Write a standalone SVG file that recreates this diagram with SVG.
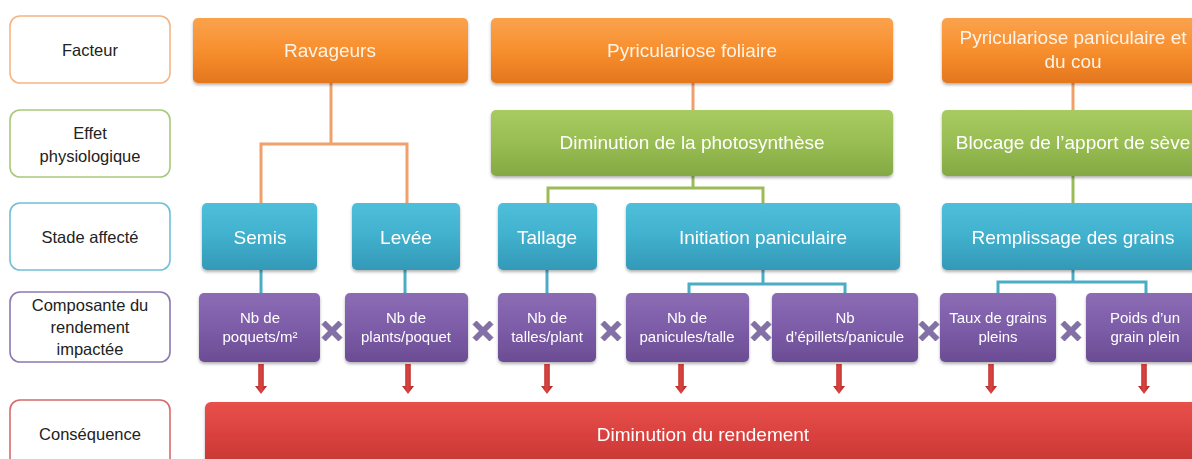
<svg xmlns="http://www.w3.org/2000/svg" width="1192" height="459" viewBox="0 0 1192 459">
<defs>
<linearGradient id="gOr" x1="0" y1="0" x2="0" y2="1"><stop offset="0" stop-color="#fba24e"/><stop offset="0.5" stop-color="#f78f2e"/><stop offset="1" stop-color="#e4761d"/></linearGradient>
<linearGradient id="gGr" x1="0" y1="0" x2="0" y2="1"><stop offset="0" stop-color="#a8cb62"/><stop offset="0.5" stop-color="#98bd52"/><stop offset="1" stop-color="#84a944"/></linearGradient>
<linearGradient id="gBl" x1="0" y1="0" x2="0" y2="1"><stop offset="0" stop-color="#4fbfdb"/><stop offset="0.5" stop-color="#40b0cd"/><stop offset="1" stop-color="#3399b7"/></linearGradient>
<linearGradient id="gPu" x1="0" y1="0" x2="0" y2="1"><stop offset="0" stop-color="#8c6cb5"/><stop offset="0.5" stop-color="#7d5ca8"/><stop offset="1" stop-color="#6b4d94"/></linearGradient>
<linearGradient id="gRd" x1="0" y1="0" x2="0" y2="1"><stop offset="0" stop-color="#e8504c"/><stop offset="0.5" stop-color="#d8403d"/><stop offset="1" stop-color="#c23532"/></linearGradient>
<linearGradient id="gAr" x1="0" y1="0" x2="1" y2="0"><stop offset="0" stop-color="#b52a28"/><stop offset="0.5" stop-color="#d94441"/><stop offset="1" stop-color="#a82422"/></linearGradient>
<filter id="sh" x="-10%" y="-10%" width="120%" height="130%"><feDropShadow dx="0" dy="2" stdDeviation="1.5" flood-color="#000" flood-opacity="0.3"/></filter>
<symbol id="xm" viewBox="-10 -10 20 20" overflow="visible">
<path d="M-6.5,-10 L0,-3.5 L6.5,-10 L10,-6.5 L3.5,0 L10,6.5 L6.5,10 L0,3.5 L-6.5,10 L-10,6.5 L-3.5,0 L-10,-6.5 Z" fill="#8270a6" stroke="#6e5e94" stroke-width="0.8" stroke-linejoin="round"/>
</symbol>
<symbol id="ar" viewBox="-6 0 12 30" overflow="visible">
<path d="M-2.8,0 L2.8,0 L2.8,22 L6,22 L0,30 L-6,22 L-2.8,22 Z" fill="url(#gAr)"/>
</symbol>
</defs>
<style>
.lab{fill:#fff;stroke-width:1.6}
.lt{font-family:"Liberation Sans",Arial,sans-serif;font-size:16.5px;fill:#222;text-anchor:middle}
.bt{font-family:"Liberation Sans",Arial,sans-serif;font-size:19px;fill:#fff;text-anchor:middle}
.ot{fill:#fff3e6}
.pt{font-family:"Liberation Sans",Arial,sans-serif;font-size:15px;fill:#fff;text-anchor:middle}
.box{filter:url(#sh)}
.c{fill:none;stroke-width:3}
.co{stroke:#f0a06a}
.cg{stroke:#9bbb59}
.cb{stroke:#4bacc6}
</style>
<rect width="1192" height="459" fill="#fff"/>

<g id="connectors">
<polyline class="c co" points="331,83 331,144"/>
<polyline class="c co" points="261,203 261,144 407,144 407,203"/>
<polyline class="c co" points="693,83 693,110"/>
<polyline class="c co" points="1073,83 1073,110"/>
<polyline class="c cg" points="693,176 693,188"/>
<polyline class="c cg" points="548,203 548,188 763,188 763,203"/>
<polyline class="c cg" points="1073,176 1073,203"/>
<polyline class="c cb" points="261,270 261,293"/>
<polyline class="c cb" points="405,270 405,293"/>
<polyline class="c cb" points="547,270 547,293"/>
<polyline class="c cb" points="763,270 763,284"/>
<polyline class="c cb" points="689,293 689,284 845,284 845,293"/>
<polyline class="c cb" points="1073,270 1073,282"/>
<polyline class="c cb" points="998,293 998,282 1146,282 1146,293"/>
<use href="#ar" x="255" y="364" width="12" height="30"/>
<use href="#ar" x="402" y="364" width="12" height="30"/>
<use href="#ar" x="541" y="364" width="12" height="30"/>
<use href="#ar" x="675" y="364" width="12" height="30"/>
<use href="#ar" x="833" y="364" width="12" height="30"/>
<use href="#ar" x="985" y="364" width="12" height="30"/>
<use href="#ar" x="1138" y="364" width="12" height="30"/>
<use href="#xm" x="322" y="321" width="20" height="20"/>
<use href="#xm" x="473" y="321" width="20" height="20"/>
<use href="#xm" x="601" y="321" width="20" height="20"/>
<use href="#xm" x="751" y="321" width="20" height="20"/>
<use href="#xm" x="919" y="321" width="20" height="20"/>
<use href="#xm" x="1061" y="321" width="20" height="20"/>
</g>

<g id="lab-facteur"><rect class="lab" x="10" y="16" width="160" height="67" rx="10" stroke="#f5b585"/><text class="lt" x="90" y="56">Facteur</text></g>
<g id="lab-effet"><rect class="lab" x="10" y="110" width="160" height="67" rx="10" stroke="#a9c97a"/><text class="lt" x="90" y="139">Effet</text><text class="lt" x="90" y="162">physiologique</text></g>
<g id="lab-stade"><rect class="lab" x="10" y="203" width="160" height="67" rx="10" stroke="#6fc0d6"/><text class="lt" x="90" y="243">Stade affecté</text></g>
<g id="lab-comp"><rect class="lab" x="10" y="292" width="160" height="70" rx="10" stroke="#8e78b0"/><text class="lt" x="90" y="311">Composante du</text><text class="lt" x="90" y="333">rendement</text><text class="lt" x="90" y="355">impactée</text></g>
<g id="lab-cons"><rect class="lab" x="10" y="400" width="160" height="70" rx="10" stroke="#d46c6a"/><text class="lt" x="90" y="440">Conséquence</text></g>

<g id="ravageurs" class="box"><rect x="193" y="18" width="275" height="65" rx="5" fill="url(#gOr)"/><text class="bt ot" x="330" y="57">Ravageurs</text></g>
<g id="pyr-fol" class="box"><rect x="491" y="18" width="402" height="65" rx="5" fill="url(#gOr)"/><text class="bt ot" x="692" y="57">Pyriculariose foliaire</text></g>
<g id="pyr-pan" class="box"><rect x="942" y="18" width="262" height="65" rx="5" fill="url(#gOr)"/><text class="bt ot" x="1073" y="44">Pyriculariose paniculaire et</text><text class="bt ot" x="1073" y="68">du cou</text></g>

<g id="photo" class="box"><rect x="491" y="110" width="402" height="66" rx="5" fill="url(#gGr)"/><text class="bt" x="692" y="149">Diminution de la photosynthèse</text></g>
<g id="seve" class="box"><rect x="942" y="110" width="262" height="66" rx="5" fill="url(#gGr)"/><text class="bt" x="1073" y="149">Blocage de l’apport de sève</text></g>

<g id="semis" class="box"><rect x="202" y="203" width="115" height="67" rx="5" fill="url(#gBl)"/><text class="bt" x="260" y="244">Semis</text></g>
<g id="levee" class="box"><rect x="352" y="203" width="108" height="67" rx="5" fill="url(#gBl)"/><text class="bt" x="406" y="244">Levée</text></g>
<g id="tallage" class="box"><rect x="498" y="203" width="99" height="67" rx="5" fill="url(#gBl)"/><text class="bt" x="547" y="244">Tallage</text></g>
<g id="initiation" class="box"><rect x="626" y="203" width="274" height="67" rx="5" fill="url(#gBl)"/><text class="bt" x="763" y="244">Initiation paniculaire</text></g>
<g id="remplissage" class="box"><rect x="942" y="203" width="262" height="67" rx="5" fill="url(#gBl)"/><text class="bt" x="1073" y="244">Remplissage des grains</text></g>

<g id="poquets" class="box"><rect x="199" y="293" width="121" height="69" rx="5" fill="url(#gPu)"/><text class="pt" x="260" y="323">Nb de</text><text class="pt" x="260" y="342">poquets/m²</text></g>
<g id="plants" class="box"><rect x="345" y="293" width="123" height="69" rx="5" fill="url(#gPu)"/><text class="pt" x="406" y="323">Nb de</text><text class="pt" x="406" y="342">plants/poquet</text></g>
<g id="talles" class="box"><rect x="498" y="293" width="98" height="69" rx="5" fill="url(#gPu)"/><text class="pt" x="547" y="323">Nb de</text><text class="pt" x="547" y="342">talles/plant</text></g>
<g id="panicules" class="box"><rect x="626" y="293" width="123" height="69" rx="5" fill="url(#gPu)"/><text class="pt" x="687" y="323">Nb de</text><text class="pt" x="687" y="342">panicules/talle</text></g>
<g id="epillets" class="box"><rect x="772" y="293" width="146" height="69" rx="5" fill="url(#gPu)"/><text class="pt" x="845" y="323">Nb</text><text class="pt" x="845" y="342">d’épillets/panicule</text></g>
<g id="taux" class="box"><rect x="940" y="293" width="116" height="69" rx="5" fill="url(#gPu)"/><text class="pt" x="998" y="323">Taux de grains</text><text class="pt" x="998" y="342">pleins</text></g>
<g id="poids" class="box"><rect x="1086" y="293" width="118" height="69" rx="5" fill="url(#gPu)"/><text class="pt" x="1145" y="323">Poids d’un</text><text class="pt" x="1145" y="342">grain plein</text></g>

<g id="rendement" class="box"><rect x="205" y="402" width="1000" height="70" rx="6" fill="url(#gRd)"/><text class="bt" x="703" y="441">Diminution du rendement</text></g>
</svg>
